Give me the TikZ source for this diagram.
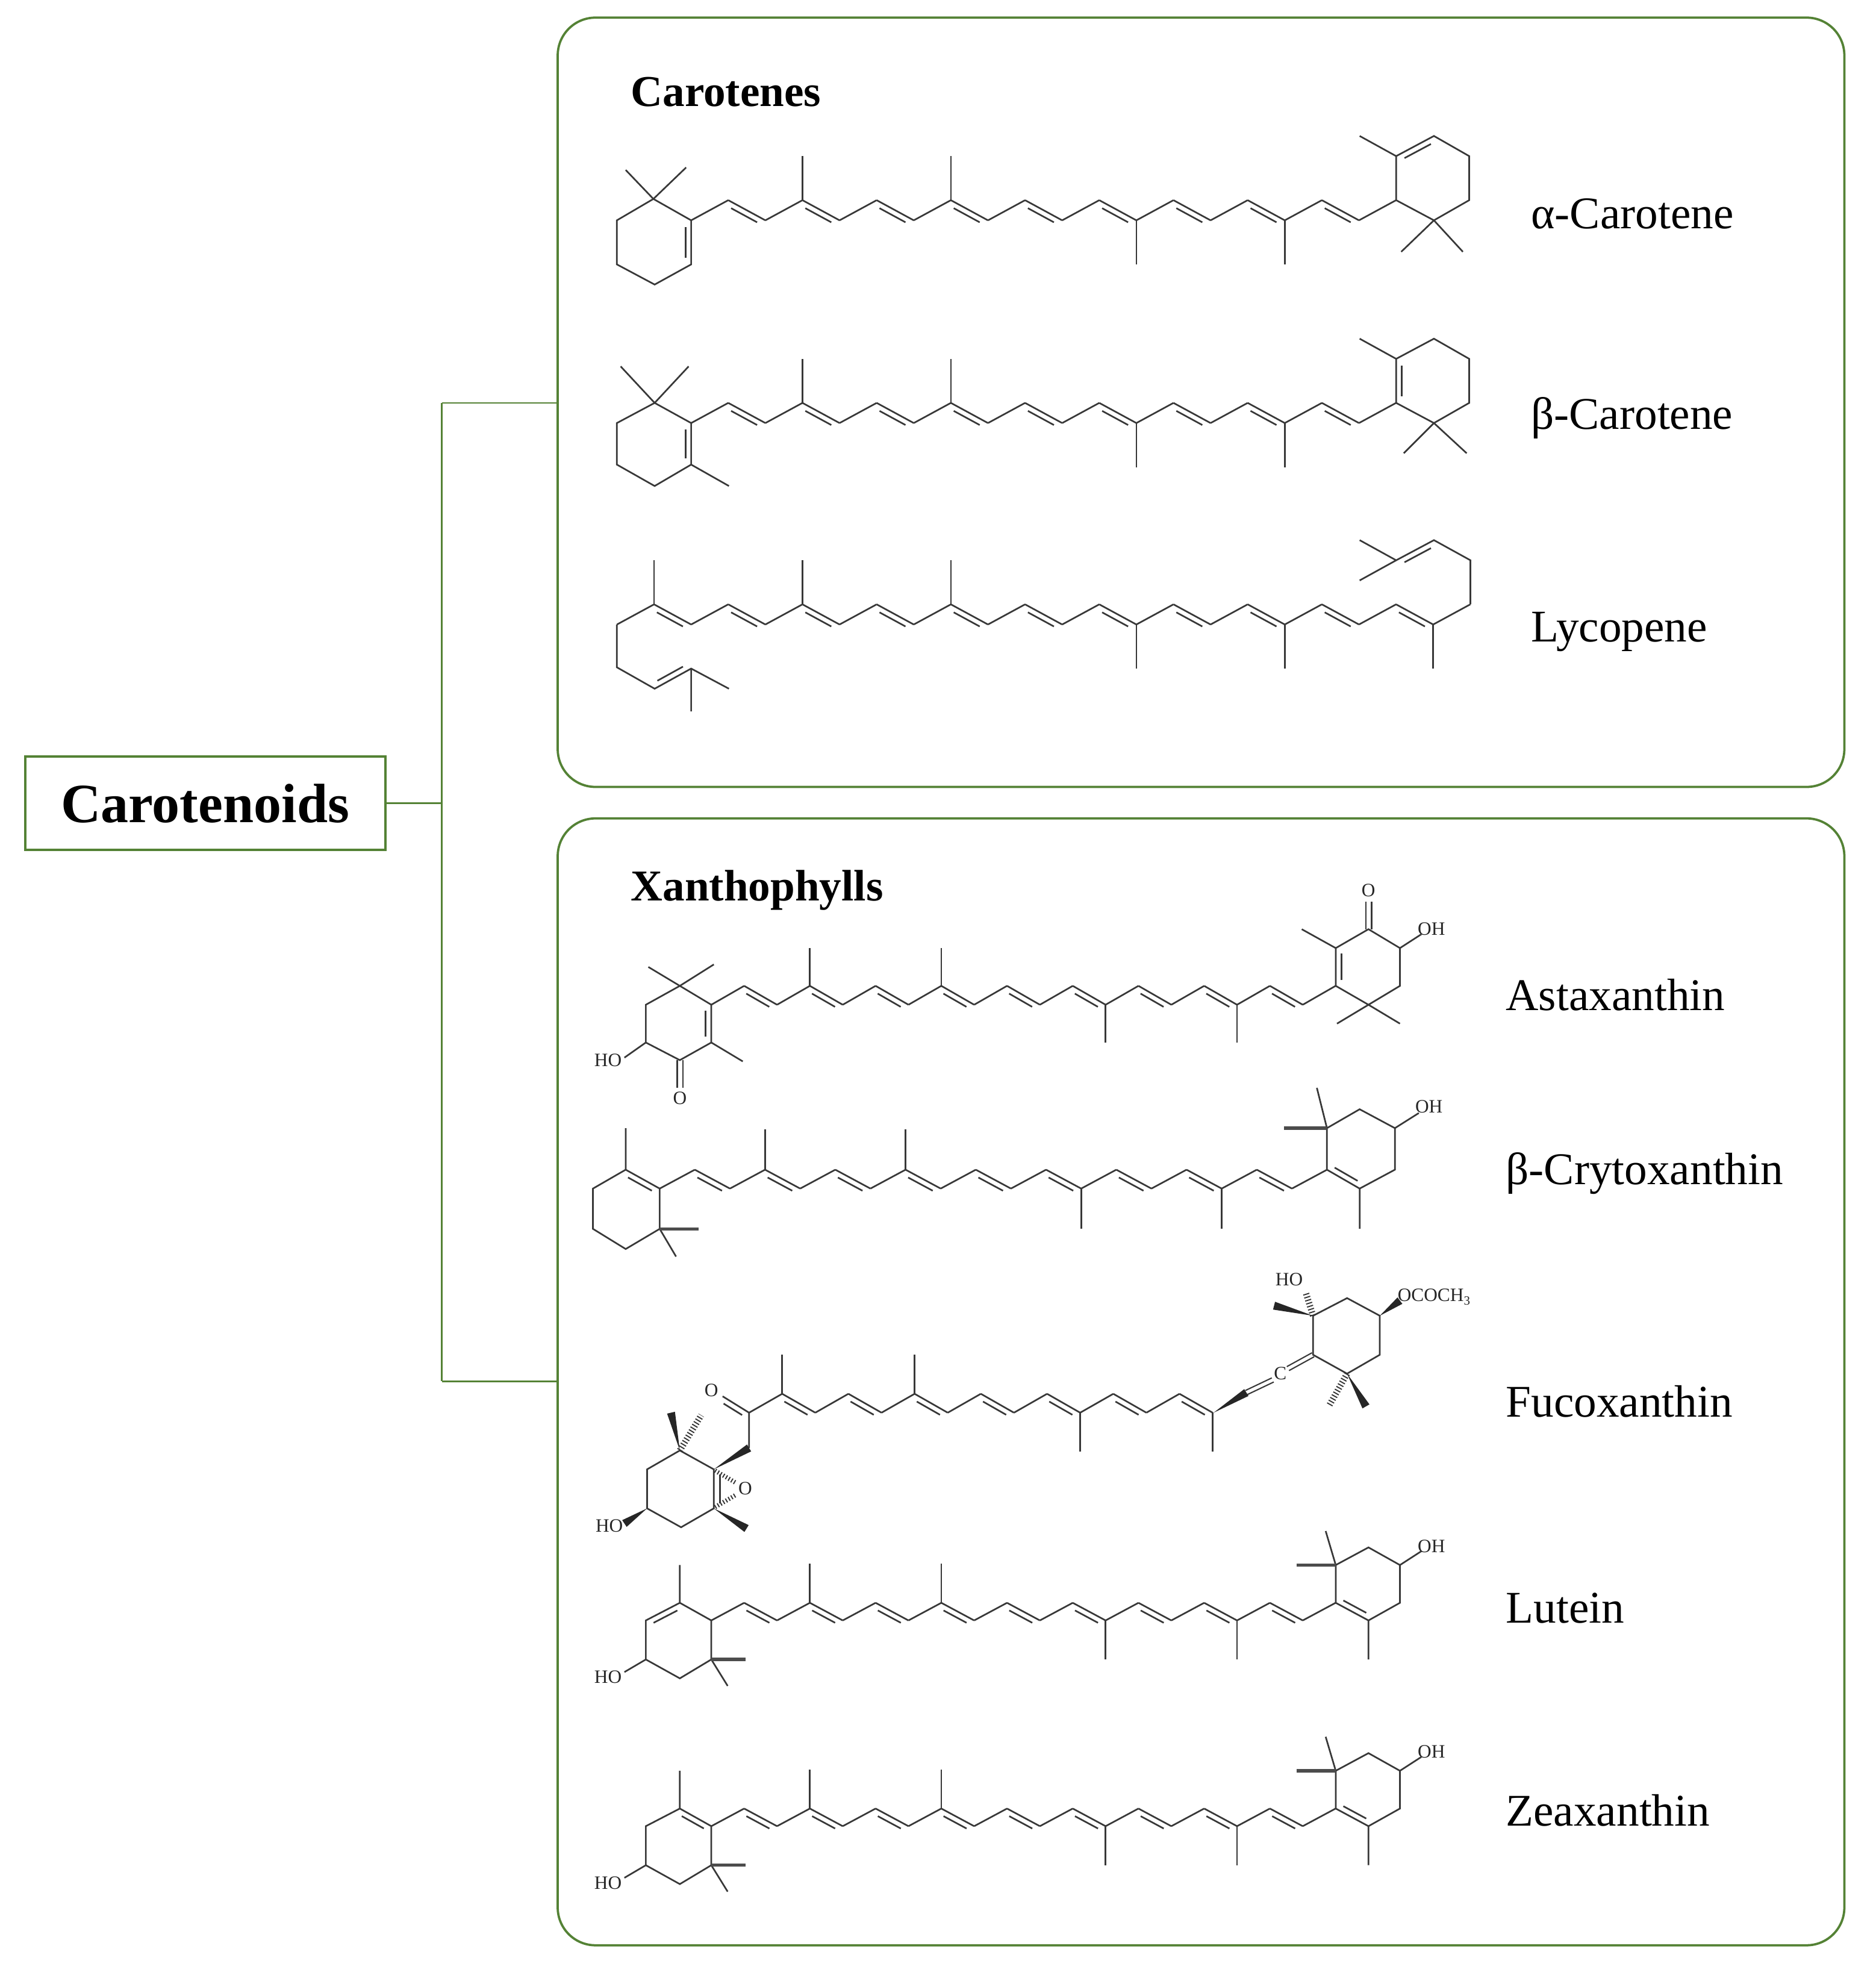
\documentclass[tikz,border=0pt]{standalone}
\usepackage{fontspec}
\setmainfont{Liberation Serif}
\usetikzlibrary{calc}
\definecolor{grn}{RGB}{84,130,53}
\tikzset{
 bond/.style={line width=1.3pt, draw=black!78},
 thickbond/.style={line width=2.6pt, draw=black!70},
 hash/.style={line width=5pt, draw=black!80, dash pattern=on 0.9pt off 1.6pt},
 atom/.style={font=\fontsize{15}{15}\selectfont, inner sep=0pt, text=black!85},
 molname/.style={font=\fontsize{36}{36}\selectfont, anchor=west, inner sep=0pt},
 headtxt/.style={font=\fontsize{35}{35}\selectfont\bfseries, anchor=west, inner sep=0pt},
 gbox/.style={draw=grn, line width=1.8pt, rounded corners=30pt},
 gline/.style={draw=grn, line width=1.3pt}
}
\newcommand\dblL[2]{\draw[bond] ($(#1)!0.15!(#2)!4.5pt!90:(#2)$) -- ($(#2)!0.15!(#1)!4.5pt!-90:(#1)$);}
\newcommand\dblR[2]{\draw[bond] ($(#1)!0.15!(#2)!4.5pt!-90:(#2)$) -- ($(#2)!0.15!(#1)!4.5pt!90:(#1)$);}
\newcommand\dblC[2]{\draw[bond,line width=1pt] ($(#1)!1.8pt!90:(#2)$) -- ($(#2)!1.8pt!-90:(#1)$) ($(#1)!1.8pt!-90:(#2)$) -- ($(#2)!1.8pt!90:(#1)$);}
\newcommand\wdg[2]{\fill[black!85] (#1) -- ($(#2)!3.2pt!90:(#1)$) -- ($(#2)!3.2pt!-90:(#1)$) -- cycle;}
% x0 y0 dx dy firstbond lastbond methyls L
\newcommand\polyene[8]{%
 \foreach \i in {#5,...,#6}{%
  \pgfmathsetmacro\xa{#1+\i*#3}\pgfmathsetmacro\xb{#1+(\i+1)*#3}%
  \pgfmathtruncatemacro\od{mod(abs(\i),2)}%
  \ifnum\od=1 \pgfmathsetmacro\ya{#2-#4}\pgfmathsetmacro\yb{#2}\else\pgfmathsetmacro\ya{#2}\pgfmathsetmacro\yb{#2-#4}\fi
  \draw[bond] (\xa,\ya)--(\xb,\yb);
  \ifnum\od=1 \dblR{\xa,\ya}{\xb,\yb}\fi}%
 \foreach \k in {#7}{%
  \pgfmathsetmacro\xk{#1+\k*#3}\pgfmathtruncatemacro\ok{mod(abs(\k),2)}%
  \ifnum\ok=1 \draw[bond] (\xk,#2-#4)--(\xk,#2-#4-#8);\else\draw[bond] (\xk,#2)--(\xk,#2+#8);\fi}}
\newcommand\lutright{%
 \draw[bond] (1061,1273)--(1087,1287)--(1112,1273)--(1112,1243)--(1087,1229)--(1061,1243)--cycle;
 \draw[bond] (1087,1287)--(1087,1318) (1112,1243)--(1129,1232) (1061,1243)--(1053,1216);
 \draw[thickbond] (1061,1243)--(1030,1243);
 \dblL{1061,1273}{1087,1287}
 \node[atom,anchor=west] at (1126,1228) {OH};}
\newcommand\lutleft{%
 \draw[bond] (565,1287)--(540,1273)--(513,1287)--(513,1318)--(540,1333)--(565,1318)--cycle;
 \draw[bond] (540,1273)--(540,1243) (513,1318)--(496,1328) (565,1318)--(578,1339);
 \draw[thickbond] (565,1318)--(592,1318);
 \node[atom,anchor=east] at (494,1332) {HO};}
\begin{document}
\begin{tikzpicture}[x=1pt,y=-1pt]
\useasboundingbox (0,0) rectangle (1490,1571);
% frames
\draw[gbox] (443,14) rectangle (1465,625);
\draw[gbox] (443,650) rectangle (1465,1545);
\node[draw=grn, line width=1.8pt, minimum width=286pt, minimum height=74pt, inner sep=0pt,
  font=\fontsize{44}{44}\selectfont\bfseries] (root) at (163,638) {Carotenoids};
\coordinate (j) at (351,638);
\coordinate (ja) at (351,320);
\coordinate (jb) at (351,1097);
\coordinate (ca) at (443,320);
\coordinate (cb) at (443,1097);
\draw[gline] (root.east) -- (j) (ja) -- (jb) (ja) -- (ca) (jb) -- (cb);
\node[headtxt] (h1) at (501,73) {Carotenes};
\node[headtxt] (h2) at (501,707) {Xanthophylls};
% names
\node[molname] (n1) at (1216,170) {α-Carotene};
\node[molname] (n2) at (1216,332) {β-Carotene};
\node[molname] (n3) at (1216,502) {Lycopene};
\node[molname] (n4) at (1196,790) {Astaxanthin};
\node[molname] (n5) at (1196,932) {β-Crytoxanthin};
\node[molname] (n6) at (1196,1113) {Fucoxanthin};
\node[molname] (n7) at (1196,1277) {Lutein};
\node[molname] (n8) at (1196,1438) {Zeaxanthin};
% ---- alpha-carotene
\polyene{549}{175}{29.47}{16}{0}{18}{3,7,12,16}{35}
\draw[bond] (519,158)--(490,175)--(490,210)--(520,226)--(549,210)--(549,175)--cycle;
\draw[bond] (519,158)--(497,135) (519,158)--(545,133);
\dblL{549,210}{549,175}
\draw[bond] (1109,159)--(1139,175)--(1167,159)--(1167,124)--(1139,108)--(1109,124)--cycle;
\dblR{1109,124}{1139,108}
\draw[bond] (1109,124)--(1080,108) (1139,175)--(1113,200) (1139,175)--(1162,200);
% ---- beta-carotene
\polyene{549}{336}{29.47}{16}{0}{18}{3,7,12,16}{35}
\draw[bond] (520,320)--(490,336)--(490,369)--(520,386)--(549,369)--(549,336)--cycle;
\draw[bond] (520,320)--(493,291) (520,320)--(547,291) (549,369)--(579,386);
\dblL{549,369}{549,336}
\draw[bond] (1109,320)--(1109,285)--(1139,269)--(1167,285)--(1167,320)--(1139,336)--cycle;
\draw[bond] (1109,285)--(1080,269) (1139,336)--(1115,360) (1139,336)--(1165,360);
\dblR{1109,320}{1109,285}
% ---- lycopene
\polyene{549}{496}{29.47}{16}{-2}{20}{-1,3,7,12,16,20}{35}
\draw[bond] (490,496)--(490,530)--(520,547)--(549,531)--(579,547) (549,531)--(549,565);
\dblL{520,547}{549,531}
\draw[bond] (1168,480)--(1168,445)--(1139,429)--(1109,445)--(1080,429) (1109,445)--(1080,461);
\dblL{1139,429}{1109,445}
% ---- astaxanthin
\polyene{565}{798}{26.1}{15}{0}{18}{3,7,12,16}{30}
\draw[bond] (565,798)--(540,783)--(513,798)--(513,828)--(540,842)--(565,828)--cycle;
\draw[bond] (540,783)--(515,768) (540,783)--(567,766) (513,828)--(496,840) (565,828)--(590,843);
\draw[bond] (538,842)--(538,864) (542.5,842)--(542.5,864);
\dblL{565,828}{565,798}
\node[atom,anchor=east] at (494,842) {HO};
\node[atom] at (540,872) {O};
\draw[bond] (1061,783)--(1061,753)--(1087,738)--(1112,753)--(1112,783)--(1087,798)--cycle;
\draw[bond] (1061,753)--(1034,738) (1112,753)--(1129,742) (1087,798)--(1062,813) (1087,798)--(1112,813);
\draw[bond] (1085,738)--(1085,716) (1089.5,738)--(1089.5,716);
\dblR{1061,783}{1061,753}
\node[atom] at (1087,707) {O};
\node[atom,anchor=west] at (1126,738) {OH};
% ---- beta-cryptoxanthin
\polyene{524}{944}{27.9}{15}{0}{18}{3,7,12,16}{32}
\draw[bond] (524,944)--(497,929)--(471,944)--(471,976)--(497,992)--(524,976)--cycle;
\draw[bond] (497,929)--(497,896) (524,976)--(537,998);
\draw[thickbond] (524,976)--(555,976);
\dblR{497,929}{524,944}
\draw[bond] (1054,929)--(1080,944)--(1108,929)--(1108,896)--(1080,881)--(1054,896)--cycle;
\draw[bond] (1080,944)--(1080,976) (1108,896)--(1127,884) (1054,896)--(1046,864);
\draw[thickbond] (1054,896)--(1020,896);
\dblL{1054,929}{1080,944}
\node[atom,anchor=west] at (1124,879) {OH};
% ---- fucoxanthin
\polyene{595}{1122}{26.3}{15}{0}{13}{1,5,10,14}{31}
\draw[bond] (595,1122)--(574,1109) (595,1122)--(595,1150);
\dblL{595,1122}{574,1109}
\node[atom] at (565,1104) {O};
\wdg{567,1167}{595,1150}
\draw[bond] (567,1167)--(540,1152)--(514,1167)--(514,1198)--(541,1213)--(567,1198)--cycle;
\draw[bond] (572,1171)--(572,1194);
\wdg{540,1152}{533,1122}
\draw[hash] (540,1152)--(557,1124);
\wdg{514,1198}{496,1210}
\node[atom,anchor=east] at (495,1212) {HO};
\wdg{567,1198}{593,1214}
\node[atom] at (592,1182) {O};
\draw[hash,line width=3.5pt] (568,1168)--(585,1178) (568,1197)--(585,1187);
\wdg{964,1122}{990,1106}
\dblC{990,1106}{1011,1096}
\node[atom] at (1017,1091) {C};
\dblC{1023,1087}{1043,1076}
\draw[bond] (1043,1076)--(1043,1045)--(1070,1031)--(1096,1045)--(1096,1076)--(1070,1091)--cycle;
\draw[hash] (1043,1045)--(1037,1026);
\node[atom] at (1024,1016) {HO};
\wdg{1043,1045}{1012,1037}
\wdg{1096,1045}{1112,1033}
\node[atom,anchor=west] at (1110,1030) {OCOCH\raisebox{-3pt}{\fontsize{10}{10}\selectfont 3}};
\draw[hash] (1070,1091)--(1056,1116);
\wdg{1070,1091}{1085,1117}
% ---- lutein
\polyene{565}{1287}{26.1}{14}{0}{18}{3,7,12,16}{31}
\lutleft
\dblL{540,1273}{513,1287}
\lutright
% ---- zeaxanthin
\begin{scope}[shift={(0,163.4)}]
\polyene{565}{1287}{26.1}{14}{0}{18}{3,7,12,16}{31}
\lutleft
\dblR{540,1273}{565,1287}
\lutright
\end{scope}
\end{tikzpicture}
\end{document}
